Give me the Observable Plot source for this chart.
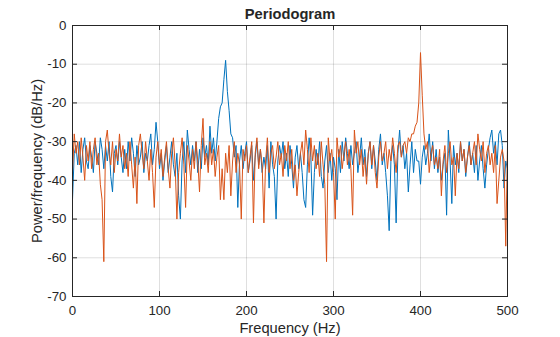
<!DOCTYPE html>
<html>
<head>
<meta charset="utf-8">
<script src="https://cdn.jsdelivr.net/npm/d3@7"></script>
<script src="https://cdn.jsdelivr.net/npm/@observablehq/plot@0.6"></script>
<style>
  html, body { margin: 0; padding: 0; background: #fff; }
</style>
</head>
<body>
<div id="chart"></div>
<script>
const title = "Periodogram";
const xLabel = "Frequency (Hz)";
const yLabel = "Power/frequency (dB/Hz)";
const xTicks = [0, 100, 200, 300, 400, 500];
const yTicks = [0, -10, -20, -30, -40, -50, -60, -70];
const freqStep = 2; // Hz between samples

// Blue series (dB/Hz), one value every 2 Hz from 0 to 500
const blueValues = [
  -45,-33,-31,-36,-30,-38,-32,-29,-35,-37,
  -31,-34,-38,-30,-33,-36,-29,-32,-37,-31,
  -35,-30,-39,-43,-33,-31,-36,-30,-34,-38,
  -32,-37,-30,-35,-29,-33,-39,-31,-36,-34,
  -30,-38,-33,-35,-31,-28,-36,-32,-25,-30,
  -37,-33,-40,-35,-31,-38,-34,-30,-36,-39,
  -33,-44,-50,-35,-30,-38,-27,-32,-36,-31,
  -35,-30,-38,-32,-37,-29,-34,-31,-36,-26,
  -33,-29,-35,-30,-24,-21,-20,-14,-9,-17,
  -22,-28,-29,-34,-31,-47,-35,-31,-37,-33,
  -30,-38,-35,-31,-40,-34,-30,-36,-32,-38,
  -34,-37,-31,-42,-30,-36,-39,-50,-35,-31,
  -34,-30,-37,-33,-39,-31,-36,-42,-34,-31,
  -37,-33,-38,-45,-47,-36,-29,-34,-49,-38,
  -32,-36,-30,-39,-42,-35,-31,-38,-33,-40,
  -34,-37,-45,-32,-38,-30,-35,-29,-33,-37,
  -31,-36,-33,-30,-38,-34,-29,-36,-32,-39,
  -33,-30,-37,-31,-35,-40,-32,-28,-36,-33,
  -38,-44,-53,-35,-31,-36,-51,-33,-27,-34,
  -31,-37,-33,-43,-36,-30,-38,-32,-35,-35,
  -41,-34,-31,-36,-33,-28,-35,-30,-37,-32,
  -38,-34,-40,-36,-33,-49,-27,-35,-46,-31,
  -36,-33,-38,-30,-35,-32,-39,-34,-30,-36,
  -33,-38,-31,-40,-35,-31,-37,-42,-36,-32,
  -29,-27,-33,-30,-36,-28,-27,-31,-42,-35,
  -37
];

// Orange series (dB/Hz), one value every 2 Hz from 0 to 500
const orangeValues = [
  -38,-28,-33,-30,-36,-29,-34,-40,-31,-35,
  -30,-37,-32,-29,-36,-33,-41,-45,-61,-30,
  -27,-33,-36,-30,-38,-32,-35,-28,-34,-31,
  -37,-33,-39,-30,-36,-42,-34,-46,-31,-28,
  -33,-37,-30,-35,-40,-32,-38,-47,-34,-30,
  -36,-32,-39,-34,-30,-37,-42,-33,-29,-36,
  -50,-38,-33,-29,-36,-47,-31,-35,-40,-32,
  -37,-30,-35,-43,-31,-24,-36,-33,-38,-30,
  -36,-32,-39,-34,-31,-45,-37,-45,-33,-38,
  -31,-44,-35,-30,-38,-33,-36,-50,-32,-35,
  -31,-38,-34,-30,-51,-33,-29,-37,-32,-36,
  -51,-35,-29,-38,-33,-31,-37,-34,-30,-36,
  -33,-39,-31,-35,-30,-37,-32,-40,-36,-44,
  -38,-33,-30,-36,-27,-32,-38,-29,-35,-31,
  -37,-33,-39,-30,-36,-41,-61,-29,-35,-32,
  -38,-50,-29,-34,-31,-37,-33,-30,-36,-32,
  -37,-49,-27,-33,-30,-36,-32,-39,-34,-41,
  -33,-30,-36,-31,-38,-42,-34,-30,-35,-33,
  -30,-37,-32,-35,-29,-33,-38,-31,-30,-34,
  -31,-30,-33,-29,-30,-28,-28,-26,-25,-20,
  -7,-18,-28,-32,-30,-38,-33,-31,-36,-34,
  -37,-32,-44,-35,-31,-38,-33,-30,-36,-34,
  -44,-33,-37,-30,-35,-32,-38,-34,-31,-36,
  -33,-30,-36,-28,-32,-35,-30,-38,-33,-31,
  -36,-33,-38,-31,-46,-40,-34,-32,-35,-57,
  -31
];

const blue = blueValues.map((v, i) => ({f: i * freqStep, p: v}));
const orange = orangeValues.map((v, i) => ({f: i * freqStep, p: v}));

const W = 560, H = 337;
const mTop = 25, mBottom = 41, mLeft = 72, mRight = 53;
const frameH = H - mTop - mBottom;
const frameW = W - mLeft - mRight;
const tickLen = 5;
const ink = "#262626";
const font = "'Liberation Sans', Arial, Helvetica, sans-serif";

const chart = Plot.plot({
  width: W,
  height: H,
  marginTop: mTop,
  marginBottom: mBottom,
  marginLeft: mLeft,
  marginRight: mRight,
  style: {fontFamily: font, fontSize: "13.3px", color: ink, background: "#fff"},
  x: {domain: [0, 500]},
  y: {domain: [-70, 0]},
  marks: [
    Plot.gridX(xTicks, {stroke: ink, strokeOpacity: 0.15}),
    Plot.gridY(yTicks, {stroke: ink, strokeOpacity: 0.15}),
    Plot.line(blue, {x: "f", y: "p", stroke: "#0072BD", strokeWidth: 1}),
    Plot.line(orange, {x: "f", y: "p", stroke: "#D95319", strokeWidth: 1}),
    Plot.frame({stroke: ink, strokeWidth: 1}),
    // inward ticks (bottom, top, left, right)
    Plot.tickX(xTicks, {x: d => d, stroke: ink, insetTop: frameH - tickLen}),
    Plot.tickX(xTicks, {x: d => d, stroke: ink, insetBottom: frameH - tickLen}),
    Plot.tickY(yTicks, {y: d => d, stroke: ink, insetRight: frameW - tickLen}),
    Plot.tickY(yTicks, {y: d => d, stroke: ink, insetLeft: frameW - tickLen}),
    Plot.axisX(xTicks, {tickSize: 0, tickPadding: 9, fontSize: 13.3, tickFormat: d => String(d), label: null}),
    Plot.axisY(yTicks, {tickSize: 0, tickPadding: 6, fontSize: 13.3, tickFormat: d => String(d), label: null}),
    Plot.text([xLabel], {frameAnchor: "bottom", lineAnchor: "middle", textAnchor: "middle", dy: 32, fontSize: 14.7, fill: ink}),
    Plot.text([yLabel], {frameAnchor: "left", lineAnchor: "middle", textAnchor: "middle", rotate: -90, dx: -35, fontSize: 14.7, fill: ink}),
    Plot.text([title], {frameAnchor: "top", lineAnchor: "middle", textAnchor: "middle", dy: -11, fontWeight: "bold", fontSize: 14.7, fill: ink})
  ]
});
document.getElementById("chart").appendChild(chart);
</script>
</body>
</html>
